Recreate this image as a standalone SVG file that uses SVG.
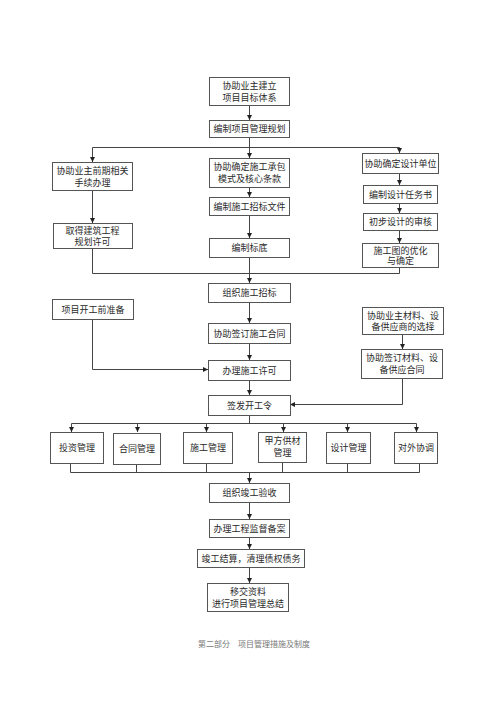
<svg xmlns="http://www.w3.org/2000/svg" width="500" height="707" viewBox="0 0 500 707">
<style>
rect{fill:#fff;stroke:#555;stroke-width:1}
text{font-family:"Liberation Sans","Noto Sans CJK SC",sans-serif;font-size:9px;fill:#2a2a2a;text-anchor:middle}
.c{fill:none;stroke:#444;stroke-width:1}
.a{marker-end:url(#ah)}
.ft{font-family:"Liberation Serif","Noto Sans CJK SC",serif;font-size:8px;fill:#777}
</style>
<defs>
<marker id="ah" markerUnits="userSpaceOnUse" markerWidth="6" markerHeight="6" refX="5" refY="3" orient="auto">
<path d="M0,0.5 L5,3 L0,5.5 Z" fill="#222"/>
</marker>
</defs>
<rect x="0" y="0" width="500" height="707" style="fill:#fff;stroke:none"/>
<g id="connectors">
<path class="c a" d="M249.5,105 V120"/>
<path class="c" d="M249.5,137 V147.5"/>
<path class="c" d="M92.5,147.5 H399.5"/>
<path class="c a" d="M92.5,147.5 V162"/>
<path class="c a" d="M249.5,147.5 V158"/>
<path class="c a" d="M399.5,147.5 V153"/>
<path class="c a" d="M92.5,190 V223"/>
<path class="c a" d="M249.5,187 V197"/>
<path class="c a" d="M249.5,215 V238"/>
<path class="c a" d="M399.5,173 V185"/>
<path class="c a" d="M399.5,203 V213"/>
<path class="c a" d="M399.5,230 V243"/>
<path class="c" d="M92.5,248 V273.5 H399.5 V267"/>
<path class="c" d="M249.5,257 V273.5"/>
<path class="c a" d="M249.5,273.5 V283"/>
<path class="c a" d="M249.5,302 V323"/>
<path class="c a" d="M249.5,343 V360"/>
<path class="c a" d="M92.5,319 V369.5 H208"/>
<path class="c a" d="M249.5,380 V395"/>
<path class="c a" d="M402.5,334 V349"/>
<path class="c a" d="M402.5,378 V404.5 H290"/>
<path class="c" d="M249.5,415 V423.5"/>
<path class="c" d="M71.5,423.5 H416.5"/>
<path class="c a" d="M71.5,423.5 V432"/>
<path class="c a" d="M137.5,423.5 V432"/>
<path class="c a" d="M206.5,423.5 V432"/>
<path class="c a" d="M283.5,423.5 V432"/>
<path class="c a" d="M347.5,423.5 V432"/>
<path class="c a" d="M416.5,423.5 V432"/>
<path class="c" d="M70.5,463 V472.5 H419.5 V463"/>
<path class="c" d="M136.5,464 V472.5"/>
<path class="c" d="M206.5,463 V472.5"/>
<path class="c" d="M282.5,462 V472.5"/>
<path class="c" d="M347.5,463 V472.5"/>
<path class="c a" d="M249.5,472.5 V483"/>
<path class="c a" d="M249.5,502 V519"/>
<path class="c a" d="M249.5,537 V549"/>
<path class="c a" d="M249.5,567 V583"/>
</g>
<g id="n1"><rect x="209.5" y="77.5" width="80" height="28"/><text x="249.5" y="89">协助业主建立</text><text x="249.5" y="101">项目目标体系</text></g>
<g id="n2"><rect x="209.5" y="120.5" width="80" height="17"/><text x="249.5" y="132">编制项目管理规划</text></g>
<g id="n3"><rect x="52.5" y="162.5" width="80" height="28"/><text x="92.5" y="174">协助业主前期相关</text><text x="92.5" y="186">手续办理</text></g>
<g id="n4"><rect x="53.5" y="223.5" width="79" height="25"/><text x="92.5" y="234">取得建筑工程</text><text x="92.5" y="245">规划许可</text></g>
<g id="n5"><rect x="209.5" y="158.5" width="80" height="29"/><text x="249.5" y="170">协助确定施工承包</text><text x="249.5" y="182">模式及核心条款</text></g>
<g id="n6"><rect x="209.5" y="197.5" width="80" height="18"/><text x="249.5" y="209.5">编制施工招标文件</text></g>
<g id="n7"><rect x="209.5" y="238.5" width="80" height="19"/><text x="249.5" y="251">编制标底</text></g>
<g id="n8"><rect x="362.5" y="153.5" width="76" height="20"/><text x="400.5" y="166.5">协助确定设计单位</text></g>
<g id="n9"><rect x="363.5" y="185.5" width="74" height="18"/><text x="400.5" y="197.5">编制设计任务书</text></g>
<g id="n10"><rect x="363.5" y="213.5" width="74" height="17"/><text x="400.5" y="225">初步设计的审核</text></g>
<g id="n11"><rect x="362.5" y="243.5" width="76" height="24"/><text x="400.5" y="253.5">施工图的优化</text><text x="400.5" y="264">与确定</text></g>
<g id="n12"><rect x="208.5" y="283.5" width="82" height="19"/><text x="249.5" y="296">组织施工招标</text></g>
<g id="n13"><rect x="208.5" y="323.5" width="82" height="20"/><text x="249.5" y="336.5">协助签订施工合同</text></g>
<g id="n14"><rect x="208.5" y="360.5" width="82" height="20"/><text x="249.5" y="373.5">办理施工许可</text></g>
<g id="n15"><rect x="52.5" y="299.5" width="81" height="20"/><text x="93" y="312.5">项目开工前准备</text></g>
<g id="n16"><rect x="362.5" y="307.5" width="81" height="27"/><text x="403" y="318.5">协助业主材料、设</text><text x="403" y="330">备供应商的选择</text></g>
<g id="n17"><rect x="361.5" y="349.5" width="81" height="29"/><text x="402" y="361">协助签订材料、设</text><text x="402" y="373">备供应合同</text></g>
<g id="n18"><rect x="208.5" y="395.5" width="82" height="20"/><text x="249.5" y="408.5">签发开工令</text></g>
<g id="n19"><rect x="50.5" y="432.5" width="53" height="31"/><text x="77" y="451">投资管理</text></g>
<g id="n20"><rect x="113.5" y="433.5" width="47" height="31"/><text x="137" y="452">合同管理</text></g>
<g id="n21"><rect x="183.5" y="432.5" width="49" height="31"/><text x="208" y="451">施工管理</text></g>
<g id="n22"><rect x="258.5" y="432.5" width="48" height="30"/><text x="282.5" y="444">甲方供材</text><text x="282.5" y="456">管理</text></g>
<g id="n23"><rect x="326.5" y="432.5" width="44" height="31"/><text x="348.5" y="451">设计管理</text></g>
<g id="n24"><rect x="394.5" y="432.5" width="43" height="31"/><text x="416" y="451">对外协调</text></g>
<g id="n25"><rect x="209.5" y="483.5" width="80" height="19"/><text x="249.5" y="496">组织竣工验收</text></g>
<g id="n26"><rect x="209.5" y="519.5" width="80" height="18"/><text x="249.5" y="531.5">办理工程监督备案</text></g>
<g id="n27"><rect x="197.5" y="549.5" width="107" height="18"/><text x="251" y="561.5">竣工结算，清理债权债务</text></g>
<g id="n28"><rect x="207.5" y="583.5" width="81" height="28"/><text x="248" y="595">移交资料</text><text x="248" y="607">进行项目管理总结</text></g>
<text class="ft" x="254" y="647">第二部分　项目管理措施及制度</text>
</svg>
